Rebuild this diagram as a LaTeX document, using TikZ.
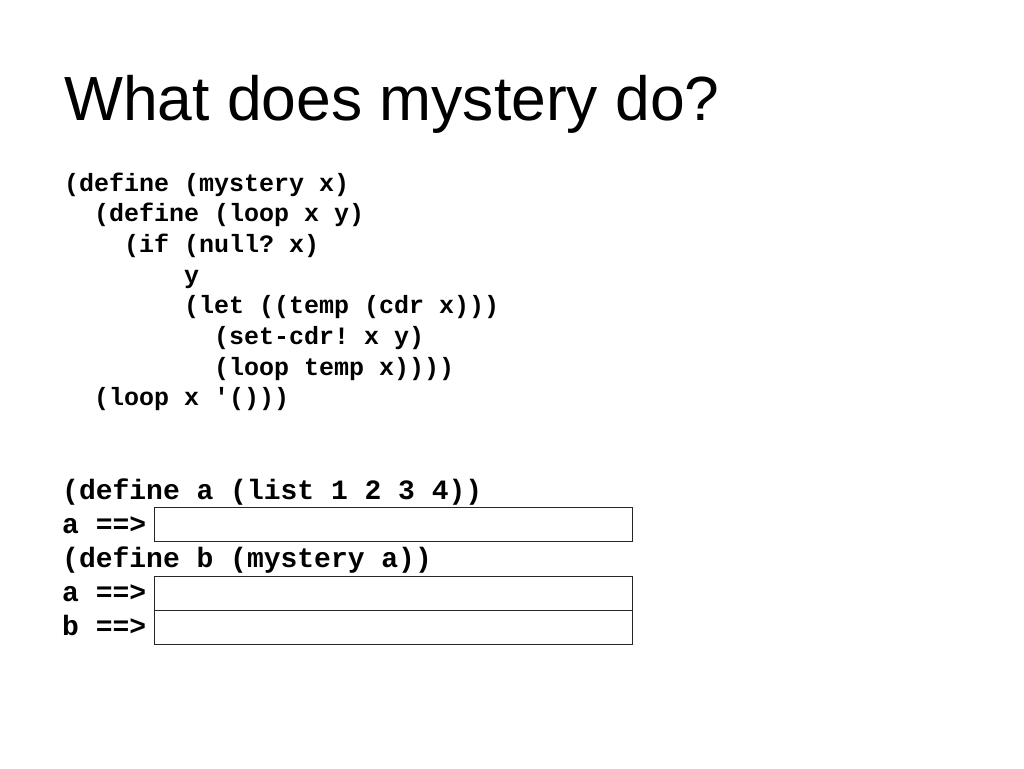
\documentclass[tikz,border=0pt]{standalone}
\usepackage{fontspec}
\setmainfont{Liberation Sans}
\setmonofont{Liberation Mono}
\begin{document}
\begin{tikzpicture}[x=1pt,y=-1pt,
  codeA/.style={anchor=base west,inner sep=0pt,font=\ttfamily\bfseries\fontsize{25}{30}\selectfont},
  codeB/.style={anchor=base west,inner sep=0pt,font=\ttfamily\bfseries\fontsize{28}{33}\selectfont},
  ansbox/.style={draw=black!85,line width=0.9pt,minimum width=478pt,minimum height=34pt,inner sep=0pt,anchor=north west}]
\useasboundingbox[fill=white] (0,0) rectangle (1024,768);
\node[anchor=base west,inner sep=0pt,font=\fontsize{62.4}{70}\selectfont] (title) at (64,120) {What does mystery do?};
% block 1: char width 15pt, baseline 191, step 30.7
\node[codeA] (l1) at (64+0*15,191+0*30.7) {(define (mystery x)};
\node[codeA] (l2) at (64+2*15,191+1*30.7) {(define (loop x y)};
\node[codeA] (l3) at (64+4*15,191+2*30.7) {(if (null? x)};
\node[codeA] (l4) at (64+8*15,191+3*30.7) {y};
\node[codeA] (l5) at (64+8*15,191+4*30.7) {(let ((temp (cdr x)))};
\node[codeA] (l6) at (64+10*15,191+5*30.7) {(set-cdr! x y)};
\node[codeA] (l7) at (64+10*15,191+6*30.7) {(loop temp x))))};
\node[codeA] (l8) at (64+2*15,191+7*30.7) {(loop x '()))};
% block 2
\node[codeB] (m1) at (62,499) {(define a (list 1 2 3 4))};
\node[codeB] (m2) at (62,533) {a ==>};
\node[codeB] (m3) at (62,567) {(define b (mystery a))};
\node[codeB] (m4) at (62,601) {a ==>};
\node[codeB] (m5) at (62,635) {b ==>};
\node[ansbox] (b1) at (154,507) {};
\node[ansbox] (b2) at (154,576) {};
\node[ansbox] (b3) at (154,610) {};
\end{tikzpicture}
\end{document}
